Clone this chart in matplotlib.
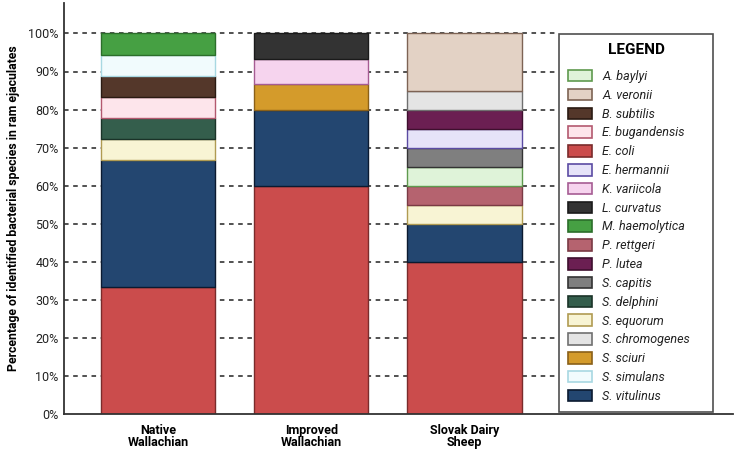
import matplotlib.pyplot as plt
from matplotlib.patches import Patch

plt.rcParams['font.family'] = ['Roboto', 'DejaVu Sans']

groups = ["Native\nWallachian", "Improved\nWallachian", "Slovak Dairy\nSheep"]

# stacked from the bottom up, percent of identified species
native_species = ["E. coli", "S. vitulinus", "S. equorum", "S. delphini",
                  "E. bugandensis", "B. subtilis", "S. simulans", "M. haemolytica"]
native_pct = [33.3, 33.4, 5.6, 5.5, 5.6, 5.5, 5.5, 5.6]

improved_species = ["E. coli", "S. vitulinus", "S. sciuri", "K. variicola", "L. curvatus"]
improved_pct = [60.0, 20.0, 6.7, 6.6, 6.7]

slovak_species = ["E. coli", "S. vitulinus", "S. equorum", "P. rettgeri", "A. baylyi",
                  "S. capitis", "E. hermannii", "P. lutea", "S. chromogenes", "A. veronii"]
slovak_pct = [40.0, 10.0, 5.0, 5.0, 5.0, 5.0, 5.0, 5.0, 5.0, 15.0]

legend_species = ["A. baylyi", "A. veronii", "B. subtilis", "E. bugandensis", "E. coli",
                  "E. hermannii", "K. variicola", "L. curvatus", "M. haemolytica",
                  "P. rettgeri", "P. lutea", "S. capitis", "S. delphini", "S. equorum",
                  "S. chromogenes", "S. sciuri", "S. simulans", "S. vitulinus"]

# fill, edge
colors = {
    "A. baylyi": ("#dff3d9", "#5f9a4e"),
    "A. veronii": ("#e3d2c5", "#7d6354"),
    "B. subtilis": ("#54372a", "#2a1a12"),
    "E. bugandensis": ("#fde5eb", "#b3596f"),
    "E. coli": ("#cb4c4c", "#7a2b2b"),
    "E. hermannii": ("#e6e3f8", "#5b4ba3"),
    "K. variicola": ("#f6d4ee", "#a65c93"),
    "L. curvatus": ("#333333", "#1a1a1a"),
    "M. haemolytica": ("#46a043", "#2b6e2a"),
    "P. rettgeri": ("#b5636f", "#7a3a44"),
    "P. lutea": ("#6b1f52", "#3e0f2e"),
    "S. capitis": ("#7f7f7f", "#333333"),
    "S. delphini": ("#345e4c", "#1a3328"),
    "S. equorum": ("#f8f4d4", "#b09b52"),
    "S. chromogenes": ("#e4e4e4", "#707070"),
    "S. sciuri": ("#d49b2b", "#8a6018"),
    "S. simulans": ("#f1fbfd", "#a8d8e2"),
    "S. vitulinus": ("#234670", "#0b1a30"),
}

fig = plt.figure(figsize=(7.36, 4.51), dpi=100)
ax = fig.add_axes([64 / 736, 1 - 414 / 451, (733 - 64) / 736, (414 - 3) / 451])

# dashed guide lines stop before the legend box
for y in range(10, 101, 10):
    ax.axhline(y, xmin=0, xmax=(555 - 64) / (733 - 64), color="#222222",
               linestyle=(0, (3, 3)), linewidth=1.1, zorder=0)

stacks = [(native_species, native_pct), (improved_species, improved_pct),
          (slovak_species, slovak_pct)]
for i, (names, vals) in enumerate(stacks):
    bottom = 0
    for name, v in zip(names, vals):
        fc, ec = colors[name]
        ax.bar(i, v, bottom=bottom, width=0.745, color=fc, edgecolor=ec,
               linewidth=1.0, zorder=2)
        bottom += v

ax.set_xlim(-0.613, 3.752)
ax.set_ylim(0, 108)
ax.set_yticks(range(0, 101, 10))
ax.set_yticklabels([f"{t}%" for t in range(0, 101, 10)], fontsize=9, color="#222222")
ax.set_xticks(range(len(groups)))
ax.set_xticklabels(groups, fontsize=9, fontweight="bold", linespacing=0.95)
ax.tick_params(axis="both", length=0, pad=4)
ax.tick_params(axis="x", pad=7)
ax.set_ylabel("Percentage of identified bacterial species in ram ejaculates",
              fontsize=8.8, fontweight="bold", labelpad=6)

for s in ["top", "right"]:
    ax.spines[s].set_visible(False)
for s in ["left", "bottom"]:
    ax.spines[s].set_color("#333333")
    ax.spines[s].set_linewidth(1.3)

handles = [Patch(facecolor=colors[n][0], edgecolor=colors[n][1], linewidth=1.2)
           for n in legend_species]
leg = fig.legend(handles, legend_species, loc="upper left",
                 bbox_to_anchor=(559 / 736, 1 - 34 / 451, (713 - 559) / 736, 0.0),
                 mode="expand", title="LEGEND", fontsize=9, frameon=True,
                 fancybox=False, edgecolor="#222222", handlelength=1.9,
                 handleheight=1.05, handletextpad=0.8, labelspacing=0.46,
                 borderpad=0.75, borderaxespad=0)
leg.get_frame().set_linewidth(1.2)
leg.get_title().set_fontweight("bold")
leg.get_title().set_fontsize(11)
leg._legend_box.sep = 9
for t in leg.get_texts():
    t.set_fontstyle("italic")
    t.set_color("#222222")

fig.savefig("out.png", dpi=100)
